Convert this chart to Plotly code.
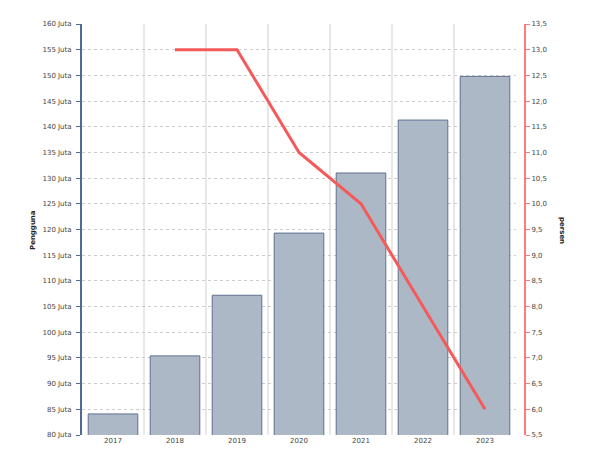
import plotly.graph_objects as go

years = ["2017", "2018", "2019", "2020", "2021", "2022", "2023"]
users_juta = [84.1, 95.4, 107.2, 119.3, 131.0, 141.3, 149.8]
line_years = ["2018", "2019", "2020", "2021", "2022", "2023"]
persen = [13.0, 13.0, 11.0, 10.0, 8.0, 6.0]
left_ticks = list(range(80, 161, 5))
left_ticktext = [f"{v} Juta" for v in left_ticks]
right_ticks = [5.5 + 0.5 * i for i in range(17)]

xpos = {y: i for i, y in enumerate(years)}
FONT = "DejaVu Sans"
OFF = 8  # page body margin
W, H = 600 - OFF, 468 - OFF
L, T = 82 - OFF, 24 - OFF
R = W - (525 - OFF)
B = H - (435 - OFF)

fig = go.Figure()
fig.add_trace(go.Bar(
    x=[xpos[y] for y in years], y=users_juta, width=0.8,
    marker=dict(color="#adb8c7", line=dict(color="#5f7190", width=1)),
    showlegend=False, hoverinfo="x+y",
))
fig.add_trace(go.Scatter(
    x=[xpos[y] for y in line_years], y=persen, yaxis="y2", mode="lines",
    line=dict(color="#f55a5a", width=3), showlegend=False,
))

fig.update_layout(
    width=W, height=H,
    margin=dict(l=L, r=R, t=T, b=B),
    paper_bgcolor="white", plot_bgcolor="white",
    separators=",.",
    font=dict(family=FONT, size=7, color="#444"),
    bargap=0.2,
    xaxis=dict(
        domain=[0, 434 / 443], range=[-0.5, 6.5], automargin=False,
        tickvals=list(range(len(years))), ticktext=years,
        showgrid=False, zeroline=False, showline=False, ticks="",
        tickfont=dict(size=7, color="#444"),
        minor=dict(tickvals=[i + 0.5 for i in range(len(years))], showgrid=True,
                   gridcolor="#e8e8e8", gridwidth=2, griddash="solid", ticks=""),
    ),
    yaxis=dict(
        range=[80, 160], tickvals=left_ticks, ticktext=left_ticktext, automargin=False,
        showgrid=True, gridcolor="#cccccc", griddash="3px,3px", gridwidth=1,
        showline=True, linecolor="#4f6a96", linewidth=2,
        ticks="outside", ticklen=4, tickcolor="#4f6a96", tickwidth=1,
        ticklabelstandoff=3,
        zeroline=False, tickfont=dict(size=7, color="#444"),
    ),
    yaxis2=dict(
        range=[5.5, 13.5], tickvals=right_ticks, tickformat=".1f", automargin=False,
        overlaying="y", side="right", anchor="free", position=1,
        showgrid=False, zeroline=False,
        showline=True, linecolor="#ff7a7a", linewidth=2,
        ticks="outside", ticklen=4, tickcolor="#ff7a7a", tickwidth=1,
        tickfont=dict(size=7, color="#444"),
    ),
)
pw, ph = W - L - R, H - T - B
def to_paper(px, py):
    return (px - OFF - L) / pw, (H - B - (py - OFF)) / ph

ax, ay = to_paper(33, 230)
fig.add_annotation(text="<b>Pengguna</b>", x=ax, y=ay, xanchor="center", yanchor="middle",
                   xref="paper", yref="paper", showarrow=False, textangle=-90,
                   font=dict(size=7, color="#222"))
bx, by = to_paper(562, 230)
fig.add_annotation(text="<b>persen</b>", x=bx, y=by, xanchor="center", yanchor="middle",
                   xref="paper", yref="paper", showarrow=False, textangle=90,
                   font=dict(size=7, color="#222"))

fig.write_html("out.html")
